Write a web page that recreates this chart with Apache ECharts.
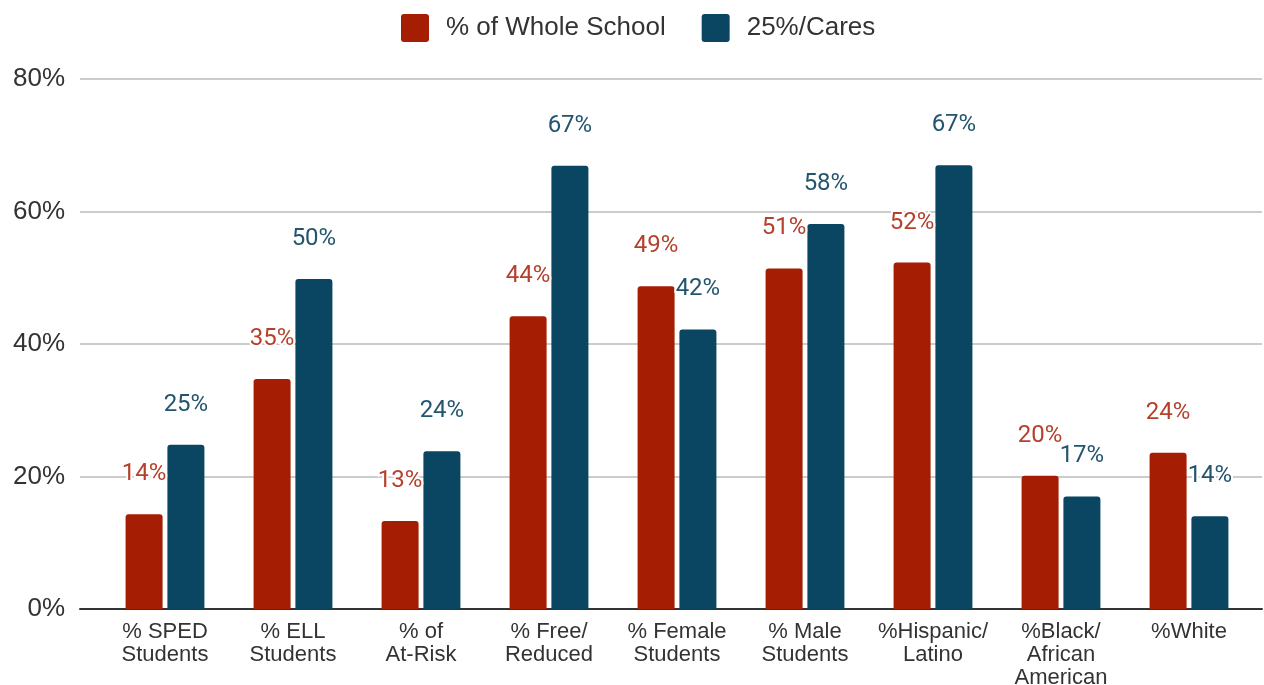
<!DOCTYPE html>
<html>
<head>
<meta charset="utf-8">
<script src="https://cdn.jsdelivr.net/npm/echarts@6/dist/echarts.min.js"></script>
<style>
  html, body { margin: 0; padding: 0; background: #fff; }
  #chart { width: 1264px; height: 685px; }
</style>
</head>
<body>
<div id="chart"></div>
<script>
const categories = [
    '% SPED\nStudents', '% ELL\nStudents', '% of\nAt-Risk', '% Free/\nReduced',
    '% Female\nStudents', '% Male\nStudents', '%Hispanic/\nLatino',
    '%Black/\nAfrican\nAmerican', '%White'
];
const wholeSchool = [14.3, 34.7, 13.3, 44.2, 48.7, 51.4, 52.3, 20.1, 23.6];
const cares = [24.8, 49.8, 23.8, 66.9, 42.2, 58.1, 67.0, 17.0, 14.0];
const yTicks = [0, 20, 40, 60, 80];

const red = '#a51d02';
const blue = '#0a4562';

const dom = document.getElementById('chart');
const myChart = echarts.init(dom);

function barLabel(color) {
    return {
        show: true,
        position: 'top',
        distance: 28,
        color: color,
        fontFamily: 'Roboto',
        fontSize: 24,
        textBorderColor: '#fff',
        textBorderWidth: 4,
        formatter: function (p) {
            return Math.round(p.value) + '%';
        }
    };
}

const option = {
    animation: false,
    legend: {
        top: 9,
        left: 396,
        itemWidth: 28,
        itemHeight: 28,
        itemGap: 36,
        icon: 'path://M3,0 L25,0 Q28,0 28,3 L28,25 Q28,28 25,28 L3,28 Q0,28 0,25 L0,3 Q0,0 3,0 Z',
        textStyle: {
            fontFamily: 'Liberation Sans',
            fontSize: 26,
            color: '#333',
            padding: [0, 0, 0, 12]
        },
        data: ['% of Whole School', '25%/Cares']
    },
    grid: [
        { left: 80, right: 2, top: 79, bottom: 76, outerBoundsMode: 'none' },
        { left: 101, right: 11, top: 79, bottom: 76, outerBoundsMode: 'none' }
    ],
    xAxis: [{
        gridIndex: 0,
        type: 'value',
        min: 0,
        max: 1,
        axisLine: { show: true, onZero: false, lineStyle: { color: '#333', width: 2 } },
        axisTick: { show: false },
        axisLabel: { show: false },
        splitLine: { show: false }
    }, {
        gridIndex: 1,
        type: 'category',
        data: categories,
        axisLine: { show: false },
        axisTick: { show: false },
        axisLabel: {
            interval: 0,
            margin: 11,
            fontFamily: 'Liberation Sans',
            fontSize: 22,
            lineHeight: 23,
            color: '#333'
        }
    }],
    yAxis: [{
        gridIndex: 0,
        type: 'value',
        min: yTicks[0],
        max: yTicks[yTicks.length - 1],
        interval: 20,
        axisLine: { show: false },
        axisTick: { show: false },
        axisLabel: {
            margin: 15,
            fontFamily: 'Liberation Sans',
            fontSize: 26,
            color: '#333',
            formatter: '{value}%'
        },
        splitLine: { lineStyle: { color: '#cccccc', width: 2 } }
    }, {
        gridIndex: 1,
        type: 'value',
        min: yTicks[0],
        max: yTicks[yTicks.length - 1],
        show: false
    }],
    series: [{
        name: '% of Whole School',
        type: 'bar',
        xAxisIndex: 1,
        yAxisIndex: 1,
        data: wholeSchool,
        barWidth: 37,
        barGap: '13%',
        itemStyle: { color: red, borderRadius: [3, 3, 0, 0] },
        label: barLabel('#b5402c')
    }, {
        name: '25%/Cares',
        type: 'bar',
        xAxisIndex: 1,
        yAxisIndex: 1,
        data: cares,
        barWidth: 37,
        barGap: '13%',
        itemStyle: { color: blue, borderRadius: [3, 3, 0, 0] },
        label: barLabel('#23556e')
    }]
};

if (option && typeof option === "object") {
    myChart.setOption(option, true);
}
</script>
</body>
</html>
